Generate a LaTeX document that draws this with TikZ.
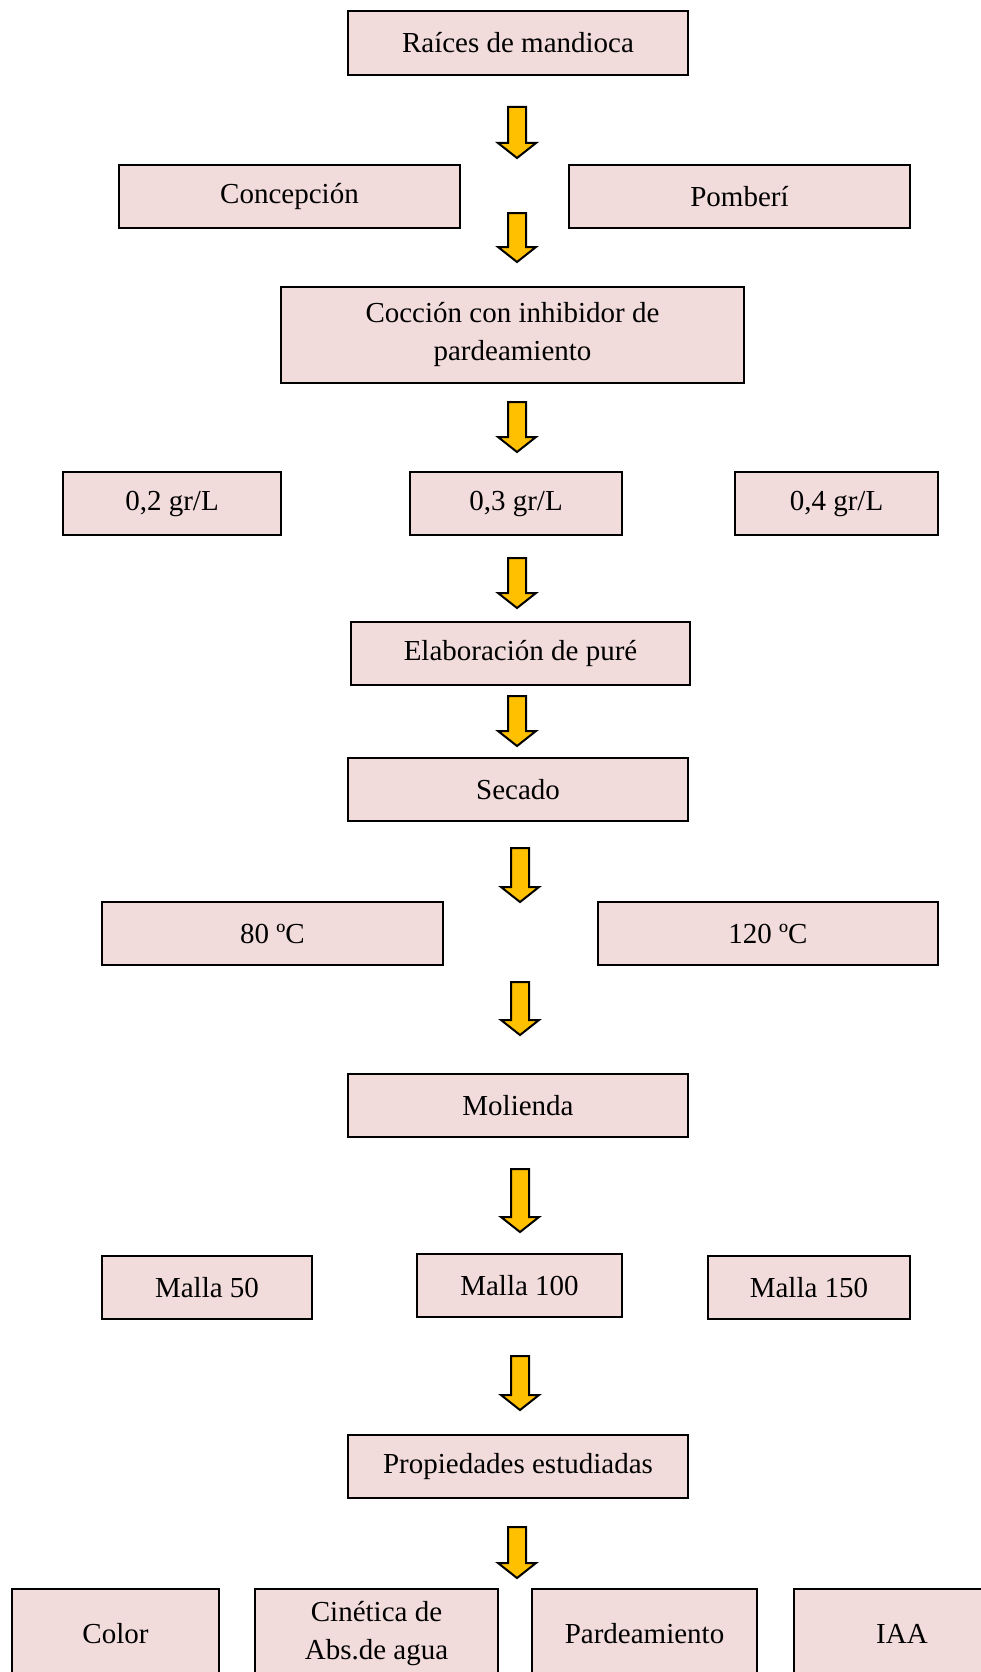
\documentclass[tikz,border=0pt]{standalone}
\usepackage{fontspec}
\setmainfont{Liberation Serif}
\definecolor{boxfill}{HTML}{F2DCDB}
\definecolor{arrowfill}{HTML}{FFC000}
\newcommand{\blockarrow}[3]{% cx, top, bottom (pixels)
  \draw[arrowstyle] (#1-9,-#2) -- (#1+9,-#2) -- (#1+9,-#3+15) -- (#1+19,-#3+15)
    -- (#1,-#3) -- (#1-19,-#3+15) -- (#1-9,-#3+15) -- cycle;}
\tikzset{
  box/.style={draw=black, line width=2.4pt, fill=boxfill, inner sep=0pt,
    font=\fontsize{29}{38}\selectfont, align=center},
  arrowstyle/.style={draw=black, line width=2pt, fill=arrowfill, line join=miter}
}
\newcommand{\bx}[6]{% name, x1, y1, x2, y2, text
  \node[box, minimum width=#4-#2, minimum height=#5-#3] (#1) at ({(#2+#4)/2},{-(#3+#5)/2}) {#6};}
\begin{document}
\begin{tikzpicture}[x=1pt,y=1pt]
\useasboundingbox (0,0) rectangle (981,-1672);
\bx{raices}{348}{11}{688}{75}{Raíces de mandioca}
\bx{concepcion}{119}{165}{460}{228}{Concepción}
\bx{pomberi}{569}{165}{910}{228}{Pomberí}
\bx{coccion}{281}{287}{744}{383}{Cocción con inhibidor de\\pardeamiento}
\bx{c02}{63}{472}{281}{535}{0,2 gr/L}
\bx{c03}{410}{472}{622}{535}{0,3 gr/L}
\bx{c04}{735}{472}{938}{535}{0,4 gr/L}
\bx{elab}{351}{622}{690}{685}{Elaboración de puré}
\bx{secado}{348}{758}{688}{821}{Secado}
\bx{t80}{102}{902}{443}{965}{80 ºC}
\bx{t120}{598}{902}{938}{965}{120 ºC}
\bx{molienda}{348}{1074}{688}{1137}{Molienda}
\bx{m50}{102}{1256}{312}{1319}{Malla 50}
\bx{m100}{417}{1254}{622}{1317}{Malla 100}
\bx{m150}{708}{1256}{910}{1319}{Malla 150}
\bx{prop}{348}{1435}{688}{1498}{Propiedades estudiadas}
\bx{color}{12}{1589}{219}{1679}{Color}
\bx{cinetica}{255}{1589}{498}{1679}{Cinética de\\Abs.de agua}
\bx{pard}{532}{1589}{757}{1679}{Pardeamiento}
\bx{iaa}{794}{1589}{1010}{1679}{IAA}
\blockarrow{517}{107}{158}
\blockarrow{517}{213}{262}
\blockarrow{517}{402}{452}
\blockarrow{517}{558}{608}
\blockarrow{517}{696}{746}
\blockarrow{520}{848}{902}
\blockarrow{520}{982}{1035}
\blockarrow{520}{1169}{1232}
\blockarrow{520}{1356}{1410}
\blockarrow{517}{1527}{1578}
\end{tikzpicture}
\end{document}
